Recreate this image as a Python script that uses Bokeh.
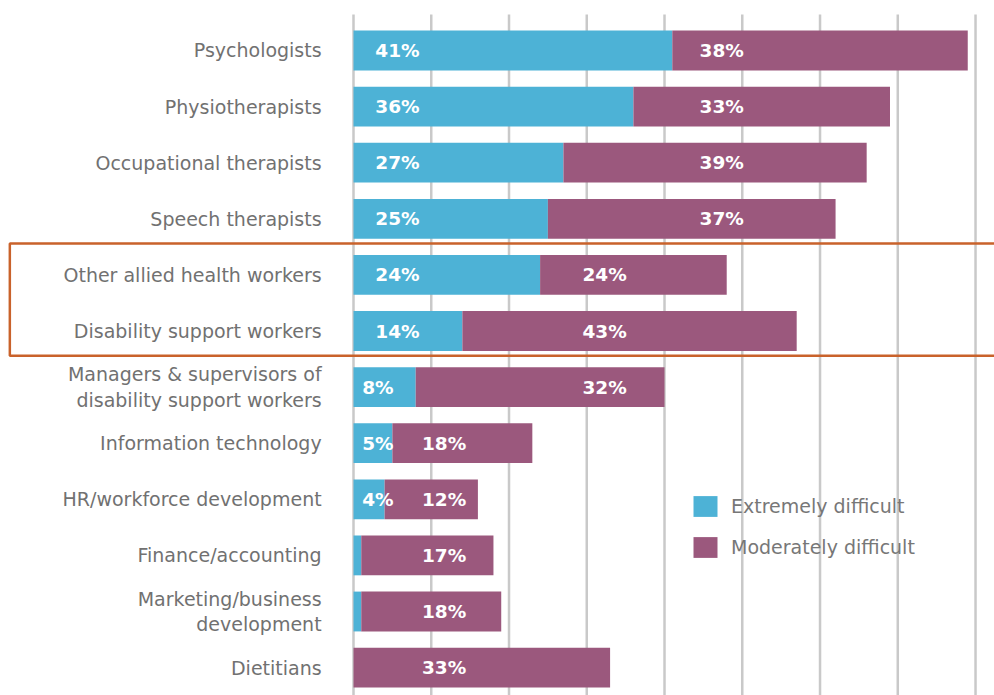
from bokeh.plotting import figure
from bokeh.models import ColumnDataSource, Range1d, Legend, LegendItem
from bokeh.core.properties import value
from bokeh.embed import file_html
from bokeh.resources import INLINE

# ---- data ----
categories = [
    "Psychologists",
    "Physiotherapists",
    "Occupational therapists",
    "Speech therapists",
    "Other allied health workers",
    "Disability support workers",
    "Managers & supervisors of\ndisability support workers",
    "Information technology",
    "HR/workforce development",
    "Finance/accounting",
    "Marketing/business\ndevelopment",
    "Dietitians",
]
extremely = [41, 36, 27, 25, 24, 14, 8, 5, 4, 1, 1, 0]
moderately = [38, 33, 39, 37, 24, 43, 32, 18, 12, 17, 18, 33]
show_extreme_label = [True] * 9 + [False] * 3
highlighted = ["Other allied health workers", "Disability support workers"]
grid_ticks = [0, 10, 20, 30, 40, 50, 60, 70, 80]

# ---- layout (label anchor positions, in axis units) ----
ext_label_x = [2.8] * 6 + [1.12] * 6
mod_label_x = [44.5] * 4 + [29.45] * 3 + [8.8] * 5

BLUE = "#4DB2D6"
PURPLE = "#9B587D"
GRAY = "#717171"
FONT = "DejaVu Sans"

W, H = 994, 695
p = figure(width=W, height=H, output_backend="svg", toolbar_location=None,
           x_range=Range1d(-45.40, 82.44), y_range=Range1d(11.497, -0.891),
           x_axis_location=None, y_axis_location=None, min_border=0)
p.grid.visible = False
p.outline_line_color = None

n = len(categories)
ys = list(range(n))
ends = [e + m for e, m in zip(extremely, moderately)]

# grid lines
p.segment(x0=grid_ticks, x1=grid_ticks, y0=[-0.642] * len(grid_ticks), y1=[12] * len(grid_ticks),
          line_color="#c9c9c9", line_width=2.5)

src = ColumnDataSource(dict(y=ys, ext=extremely, end=ends, zero=[0] * n))
r1 = p.hbar(y="y", left="zero", right="ext", height=0.71, source=src,
            fill_color=BLUE, line_color=None)
r2 = p.hbar(y="y", left="ext", right="end", height=0.71, source=src,
            fill_color=PURPLE, line_color=None)

# category labels
p.text(x=[-4.1] * n, y=ys, text=categories, text_align="right", text_baseline="middle",
       text_font=value(FONT), text_font_size="19px", text_color=GRAY, text_line_height=1.15)

# value labels
ex_idx = [i for i in range(n) if show_extreme_label[i]]
p.text(x=[ext_label_x[i] for i in ex_idx], y=[ys[i] for i in ex_idx],
       text=[f"{extremely[i]}%" for i in ex_idx], text_align="left", text_baseline="middle",
       text_font=value(FONT), text_font_size="18.5px", text_font_style="bold", text_color="white")
p.text(x=mod_label_x, y=ys, text=[f"{m}%" for m in moderately], text_align="left",
       text_baseline="middle", text_font=value(FONT), text_font_size="18.5px",
       text_font_style="bold", text_color="white")

# highlight box
hi = [categories.index(c) for c in highlighted]
p.quad(left=[-44.2], right=[95], top=[min(hi) - 0.56], bottom=[max(hi) + 0.44],
       fill_color=None, line_color="#C9622B", line_width=2.5)

legend = Legend(items=[LegendItem(label="Extremely difficult", renderers=[r1]),
                       LegendItem(label="Moderately difficult", renderers=[r2])],
                location=(690, 135), glyph_width=30, glyph_height=26, label_standoff=11,
                spacing=15, padding=0, margin=0, background_fill_alpha=0,
                border_line_color=None, label_text_font=FONT, label_text_font_size="19px",
                label_text_color="#777777", label_height=26)
p.add_layout(legend)

open("out.html", "w").write(file_html(p, INLINE))
